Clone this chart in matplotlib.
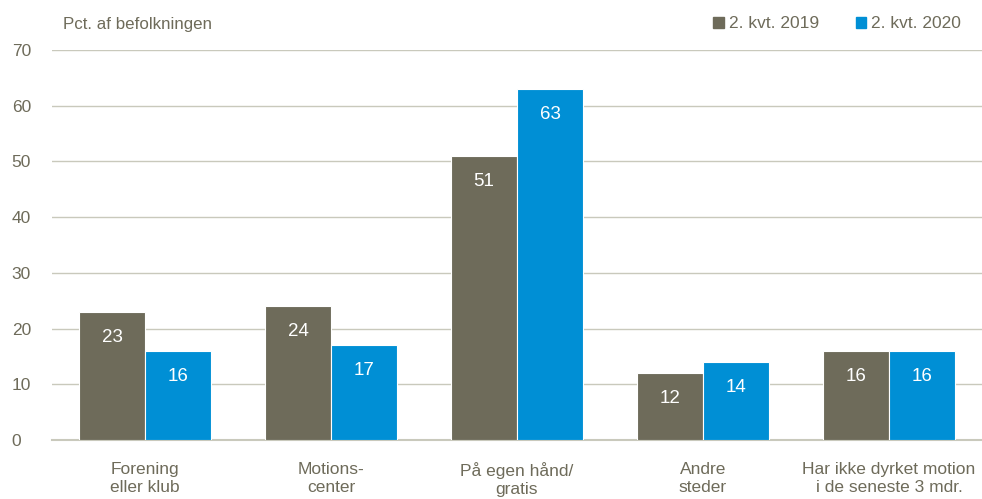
import numpy as np
import matplotlib.pyplot as plt
from matplotlib.patches import Patch

plt.rcParams['font.family'] = ['Liberation Sans', 'DejaVu Sans']

categories = ["Forening\neller klub", "Motions-\ncenter", "På egen hånd/\ngratis",
              "Andre\nsteder", "Har ikke dyrket motion\ni de seneste 3 mdr."]
series_names = ["2. kvt. 2019", "2. kvt. 2020"]
v2019 = [23, 24, 51, 12, 16]
v2020 = [16, 17, 63, 14, 16]
yticks = [0, 10, 20, 30, 40, 50, 60, 70]

c19 = '#6E6B5A'
c20 = '#008FD5'
txt = '#6E6B5A'
grid = '#C9C9BC'

fig = plt.figure(figsize=(9.82, 4.99), dpi=100)
ax = fig.add_axes([52 / 982, 59 / 499, 930 / 982, 390 / 499])

x = np.arange(len(categories))
w = 0.355
b1 = ax.bar(x - w / 2, v2019, w, color=c19, edgecolor='white', linewidth=0.8, zorder=3)
b2 = ax.bar(x + w / 2, v2020, w, color=c20, edgecolor='white', linewidth=0.8, zorder=3)

for bars, vals in [(b1, v2019), (b2, v2020)]:
    for r, v in zip(bars, vals):
        ax.text(r.get_x() + r.get_width() / 2, v - 4.6, str(v), ha='center', va='center',
                color='white', fontsize=13.5, zorder=4)

ax.set_xlim(-0.5, 4.5)
ax.set_ylim(0, 70)
ax.set_yticks(yticks)
ax.set_xticks(x)
ax.set_xticklabels(categories)
ax.tick_params(axis='both', length=0, colors=txt, labelsize=12.5)
ax.tick_params(axis='x', pad=16)
ax.tick_params(axis='y', pad=29)
for lbl in ax.get_yticklabels():
    lbl.set_horizontalalignment('left')
ax.yaxis.grid(True, color=grid, linewidth=1.0, zorder=0)
ax.axhline(0, color=grid, linewidth=1.5, zorder=2, clip_on=False)
ax.set_axisbelow(True)
for s in ax.spines.values():
    s.set_visible(False)

fig.text(63 / 982, 1 - 24 / 499, "Pct. af befolkningen", color=txt, fontsize=12.2, va='center')

handles = [Patch(color=c19), Patch(color=c20)]
fig.legend(handles, series_names, loc='center right', bbox_to_anchor=(961 / 982, 1 - 24 / 499),
           ncol=2, frameon=False, fontsize=12.5, labelcolor=txt, handlelength=0.6,
           handleheight=0.6, handletextpad=0.3, columnspacing=2.1,
           borderpad=0, borderaxespad=0)

fig.savefig('out.png', dpi=100)
